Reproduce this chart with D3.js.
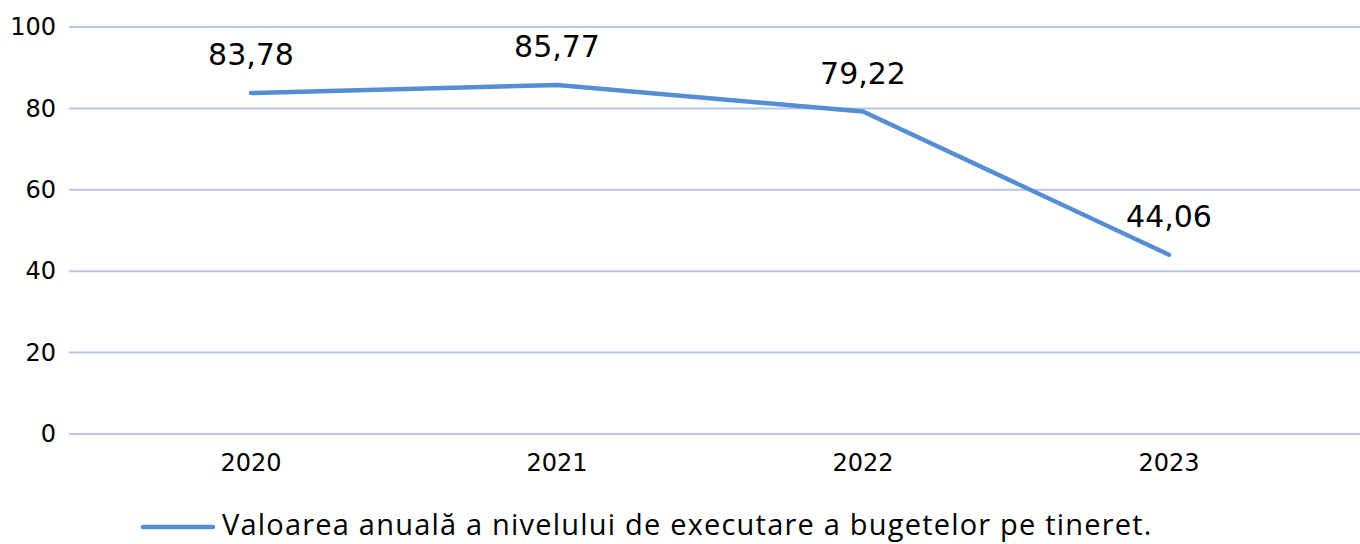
<!DOCTYPE html>
<html><head><meta charset="utf-8">
<script src="https://cdn.jsdelivr.net/npm/d3@7"></script>
<style>html,body{margin:0;padding:0;background:#fff;}svg{display:block;}</style>
</head><body>
<svg id="c" width="1360" height="544"></svg>
<script>
const years = ["2020","2021","2022","2023"];
const values = [83.78, 85.77, 79.22, 44.06];
const valueLabels = ["83,78","85,77","79,22","44,06"];
const yTicks = [0,20,40,60,80,100];
const legendLabel = "Valoarea anuală a nivelului de executare a bugetelor pe tineret.";

const font = "'Open Sans', 'DejaVu Sans', sans-serif";
const numFont = "'DejaVu Sans', sans-serif";
const svg = d3.select("#c");
const x = d3.scaleBand().domain(years).range([98, 1322]);
const y = d3.scaleLinear().domain([0,100]).range([434, 27]);

// gridlines
svg.append("g").selectAll("line").data(yTicks).join("line")
  .attr("x1", 69).attr("x2", 1360)
  .attr("y1", d => y(d)).attr("y2", d => y(d))
  .attr("stroke", "#B4C7E7").attr("stroke-width", 2);

// y axis labels
const yAxis = d3.axisLeft(y).tickValues(yTicks).tickSize(0).tickPadding(0);
const gy = svg.append("g").attr("transform", "translate(56,0)").call(yAxis);
gy.select(".domain").remove();
gy.selectAll("text").attr("font-family", numFont).attr("font-size", 24).attr("fill", "#000");

// x axis labels
const xAxis = d3.axisBottom(x).tickSize(0).tickPadding(0);
const gx = svg.append("g").attr("transform", "translate(0,449)").call(xAxis);
gx.select(".domain").remove();
gx.selectAll("text").attr("font-family", numFont).attr("font-size", 24).attr("fill", "#000").attr("dy", "0.9em");

// line
const line = d3.line().x((d,i) => x(years[i]) + x.bandwidth()/2).y(d => y(d));
svg.append("path").datum(values).attr("d", line)
  .attr("fill", "none").attr("stroke", "#558ED5").attr("stroke-width", 4.5)
  .attr("stroke-linecap", "round").attr("stroke-linejoin", "round");

// data labels
svg.append("g").selectAll("text").data(values).join("text")
  .attr("x", (d,i) => x(years[i]) + x.bandwidth()/2)
  .attr("y", d => y(d) - 28)
  .attr("text-anchor", "middle")
  .attr("font-family", numFont).attr("font-size", 30).attr("fill", "#000")
  .text((d,i) => valueLabels[i]);

// legend
const lg = svg.append("g");
lg.append("line").attr("x1", 143).attr("x2", 213).attr("y1", 527).attr("y2", 527)
  .attr("stroke", "#558ED5").attr("stroke-width", 4.5).attr("stroke-linecap", "round");
lg.append("text").attr("x", 222).attr("y", 535)
  .attr("font-family", font).attr("font-size", 29).attr("letter-spacing", 1.2).attr("fill", "#000").text(legendLabel);
</script>
</body></html>
